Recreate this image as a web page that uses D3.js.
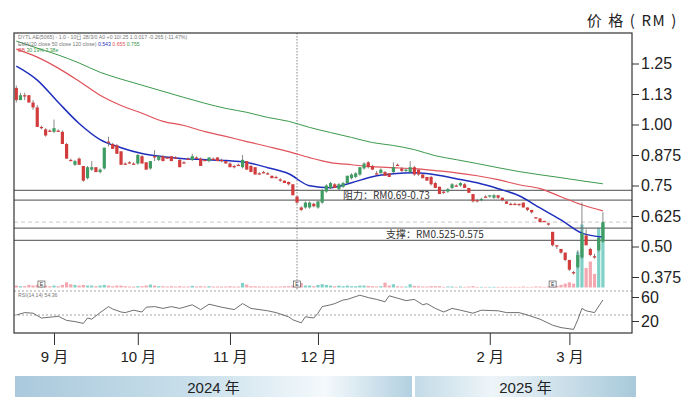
<!DOCTYPE html>
<html><head><meta charset="utf-8">
<script src="https://cdn.jsdelivr.net/npm/d3@7"></script>
<style>body{margin:0;background:#fff}svg{display:block}</style>
</head><body>
<svg id="c" width="690" height="402"></svg>
<script>
// ---------- DATA ----------
// daily candles [open, high, low, close], 20 Aug 2024 .. 13 Mar 2025 (trading days)
const candles = [
[1.15,1.16,1.09,1.10],[1.10,1.13,1.10,1.12],[1.12,1.13,1.10,1.12],[1.12,1.12,1.09,1.09],[1.09,1.10,1.06,1.07],
[1.07,1.08,0.99,0.99],[0.99,0.995,0.98,0.985],[0.98,0.985,0.95,0.955],[0.975,0.98,0.97,0.975],[0.97,1.02,0.965,0.985],
[0.975,0.98,0.97,0.975],[0.97,0.975,0.92,0.92],[0.92,0.925,0.86,0.86],[0.855,0.86,0.85,0.855],[0.835,0.855,0.83,0.85],
[0.86,0.865,0.835,0.835],[0.83,0.83,0.765,0.77],[0.78,0.83,0.775,0.825],[0.815,0.85,0.81,0.825],[0.825,0.825,0.805,0.805],
[0.805,0.82,0.80,0.815],[0.82,0.905,0.815,0.905],[0.93,0.95,0.91,0.93],[0.92,0.925,0.90,0.90],[0.915,0.92,0.88,0.88],
[0.89,0.89,0.835,0.835],[0.84,0.845,0.835,0.84],[0.845,0.85,0.84,0.845],[0.84,0.845,0.835,0.84],[0.84,0.88,0.835,0.875],
[0.87,0.875,0.84,0.84],[0.845,0.845,0.815,0.815],[0.82,0.85,0.815,0.85],[0.87,0.895,0.85,0.87],[0.855,0.875,0.85,0.87],
[0.87,0.875,0.85,0.85],[0.865,0.87,0.86,0.865],[0.87,0.87,0.85,0.85],[0.865,0.87,0.86,0.865],[0.855,0.86,0.825,0.825],
[0.845,0.85,0.84,0.845],[0.86,0.865,0.855,0.86],[0.855,0.88,0.85,0.87],[0.865,0.87,0.86,0.865],[0.86,0.865,0.83,0.83],
[0.855,0.86,0.85,0.855],[0.85,0.865,0.845,0.865],[0.86,0.865,0.855,0.86],[0.865,0.865,0.85,0.85],[0.855,0.86,0.845,0.85],
[0.85,0.85,0.84,0.84],[0.84,0.845,0.825,0.825],[0.83,0.835,0.82,0.825],[0.835,0.84,0.83,0.835],[0.825,0.875,0.82,0.855],
[0.85,0.85,0.815,0.815],[0.83,0.835,0.805,0.805],[0.825,0.825,0.795,0.795],[0.80,0.805,0.795,0.80],[0.805,0.81,0.80,0.805],
[0.80,0.805,0.795,0.795],[0.79,0.79,0.78,0.78],[0.785,0.79,0.78,0.785],[0.775,0.78,0.765,0.77],[0.77,0.77,0.76,0.76],
[0.765,0.765,0.75,0.755],[0.755,0.755,0.71,0.71],[0.705,0.705,0.675,0.68],[0.66,0.665,0.645,0.65],[0.66,0.685,0.655,0.68],
[0.66,0.685,0.655,0.68],[0.675,0.68,0.66,0.665],[0.66,0.685,0.655,0.685],[0.68,0.735,0.675,0.73],[0.725,0.755,0.72,0.75],
[0.74,0.765,0.735,0.76],[0.755,0.76,0.74,0.74],[0.735,0.76,0.73,0.755],[0.745,0.765,0.74,0.76],[0.76,0.79,0.755,0.79],
[0.78,0.80,0.775,0.795],[0.785,0.805,0.78,0.80],[0.795,0.825,0.79,0.825],[0.82,0.845,0.815,0.84],[0.845,0.85,0.82,0.825],
[0.83,0.835,0.815,0.815],[0.80,0.81,0.795,0.80],[0.80,0.82,0.80,0.815],[0.805,0.81,0.79,0.79],[0.80,0.80,0.785,0.785],
[0.805,0.845,0.80,0.825],[0.835,0.84,0.83,0.835],[0.82,0.825,0.805,0.81],[0.81,0.82,0.805,0.815],[0.805,0.85,0.80,0.825],
[0.825,0.83,0.79,0.795],[0.815,0.815,0.79,0.795],[0.795,0.80,0.78,0.78],[0.785,0.785,0.77,0.77],[0.785,0.79,0.75,0.755],
[0.76,0.765,0.74,0.74],[0.745,0.745,0.715,0.715],[0.725,0.73,0.715,0.725],[0.725,0.74,0.72,0.735],[0.74,0.76,0.735,0.755],
[0.75,0.755,0.745,0.75],[0.75,0.765,0.745,0.76],[0.755,0.76,0.74,0.74],[0.74,0.74,0.72,0.72],[0.715,0.715,0.68,0.685],
[0.69,0.695,0.68,0.685],[0.69,0.70,0.685,0.695],[0.705,0.71,0.70,0.705],[0.705,0.71,0.70,0.71],[0.70,0.715,0.695,0.71],
[0.71,0.71,0.695,0.70],[0.70,0.70,0.685,0.69],[0.685,0.685,0.675,0.675],[0.675,0.68,0.67,0.675],[0.675,0.68,0.67,0.675],
[0.675,0.675,0.665,0.67],[0.68,0.68,0.66,0.66],[0.66,0.66,0.645,0.65],[0.65,0.65,0.635,0.64],[0.62,0.62,0.615,0.615],
[0.615,0.615,0.60,0.60],[0.605,0.605,0.60,0.60],[0.595,0.595,0.585,0.59],[0.56,0.56,0.50,0.505],[0.505,0.505,0.49,0.505],
[0.49,0.49,0.47,0.475],[0.475,0.475,0.44,0.445],[0.445,0.445,0.40,0.405],[0.395,0.40,0.385,0.395],[0.415,0.485,0.41,0.465],
[0.455,0.68,0.45,0.555],[0.545,0.57,0.505,0.505],[0.49,0.495,0.46,0.465],[0.46,0.47,0.45,0.46],[0.485,0.54,0.48,0.535],
[0.52,0.64,0.515,0.60]
];
// volume (relative units, 100 = tallest bar)
const volumes = [
3,2,2,4,3,4,2,3,2,3,
2,4,8,5,4,3,4,3,3,2,
3,4,3,2,3,3,2,1.5,1.5,2,
2,3,4.5,3,2,2,1.5,2,1.5,2,
1.5,1.5,2.5,1.5,2,1.5,2,1.5,1.5,1.5,
1.5,2,1.5,1.5,7,4.5,2,2,1.5,1.5,
1.5,1.5,1.5,1.5,2,2,3,5,7,3,
3,2,4,5,4,3,2,3,2,3,
2,2,3,3,2.5,2,1.5,2,7.5,3,
5,2,1.5,1.5,5,2.5,2,1.5,1.5,2,
2,2,1,1.5,1.5,1,1.5,1,1.5,2,
1,1,1,1,1,1,1,1,1,1,
1,1.5,1,1,1.5,1.5,1,1.5,4,2.5,
4,6,8,6,55,97,30,40,21,92,
98
];
// moving averages sampled every 5 trading days
const maIndex = d3.range(0, 141, 5);
const ema20  = [1.239,1.182,1.091,1.004,0.938,0.905,0.881,0.868,0.860,0.856,0.852,0.844,0.823,0.798,0.749,0.741,0.761,0.786,0.798,0.802,0.794,0.778,0.761,0.737,0.708,0.658,0.609,0.555,0.539];
const ema50  = [1.309,1.276,1.231,1.177,1.120,1.078,1.046,1.013,0.996,0.971,0.951,0.930,0.910,0.889,0.864,0.844,0.835,0.827,0.823,0.819,0.811,0.802,0.790,0.774,0.753,0.737,0.704,0.671,0.646];
const ema120 = [1.342,1.313,1.285,1.252,1.214,1.186,1.161,1.136,1.111,1.087,1.066,1.050,1.029,1.013,0.988,0.967,0.947,0.926,0.914,0.897,0.872,0.856,0.840,0.823,0.807,0.794,0.782,0.769,0.757];
// RSI
const rsiIndex = [0,2,4,6,9,10,12,14,16,17,18,20,22,23,25,26,28,30,31,33,35,37,39,42,44,46,49,52,54,56,60,62,65,66,68,69,71,72,73,75,76,78,79,82,84,86,88,89,91,93,95,97,98,100,102,104,106,109,111,115,117,120,122,125,128,130,133,134,135,136,138,140];
const rsiValue = [30,34,33,25,27,28,21,19,16,25,23,34,44,40,35,34,38,35,43,44,41,44,41,47,39,48,43,39,49,41,37,34,27,22,17,27,25,33,44,47,49,55,56,63,59,56,52,62,58,54,56,47,49,41,35,41,38,33,38,37,34,34,30,23,13,9,6,22,41,37,34,55];
// axes
const priceTicks = [1.25,1.125,1.00,0.875,0.75,0.625,0.50,0.375];
const priceTickLabels = ["1.25","1.13","1.00","0.875","0.75","0.625","0.50","0.375"];
const rsiTicks = [60,20];
const rsiGuides = [70,30];
const monthIndex = [9,29,51,72,113,132];
const monthLabels = ["9 月","10 月","11 月","12 月","2 月","3 月"];
const yearLabels = ["2024 年","2025 年"];
// levels
const resistance = [0.69,0.73];
const support = [0.525,0.575];
const lastPrice = 0.60;
const markerIndex = 67;
const eventIndex = [6,67,128];
const resistanceText = "阻力：RM0.69-0.73";
const supportText = "支撑：RM0.525-0.575";
const axisTitle = "价 格 ( RM )";

// ---------- LAYOUT ----------
const F = {l:14, r:632, t:33, b:333, volBase:287.5, volH:65};
const NUM = "'Liberation Sans', Arial, 'Noto Sans CJK SC', sans-serif";
const CJK = "'Noto Sans CJK SC', 'Liberation Sans', sans-serif";
const UP = "#3f9c63", DN = "#d23c3c";

const svg = d3.select("#c");
const x  = d3.scaleLinear().domain([0, candles.length-1]).range([16.3, 602.9]);
const y  = d3.scaleLinear().domain([0.375, 1.25]).range([277, 63.5]);
const yv = d3.scaleLinear().domain([0, 100]).range([0, F.volH]);
const yr = d3.scaleLinear().domain([20, 60]).range([321, 297]);

const defs = svg.append("defs");
defs.append("clipPath").attr("id","plot").append("rect")
  .attr("x",F.l).attr("y",F.t).attr("width",F.r-F.l).attr("height",F.b-F.t);
const g1 = defs.append("linearGradient").attr("id","y24");
[[0,"#aac9dc"],[0.45,"#c9dfeb"],[0.78,"#f4f9fc"],[1,"#b2d0e0"]].forEach(s=>g1.append("stop").attr("offset",s[0]).attr("stop-color",s[1]));
const g2 = defs.append("linearGradient").attr("id","y25");
[[0,"#c3dbe7"],[0.35,"#eef5f9"],[1,"#a8c9da"]].forEach(s=>g2.append("stop").attr("offset",s[0]).attr("stop-color",s[1]));

const plot = svg.append("g").attr("clip-path","url(#plot)");

// last price dashed line
plot.append("line").attr("x1",F.l).attr("x2",F.r).attr("y1",y(lastPrice)).attr("y2",y(lastPrice))
  .attr("stroke","#c8c8c8").attr("stroke-dasharray","4,3").attr("stroke-width",1);

// volume
plot.append("g").selectAll("rect").data(volumes).join("rect")
  .attr("x",(d,i)=>x(i)-1.6).attr("width",3.2)
  .attr("y",d=>F.volBase-yv(d)).attr("height",d=>yv(d))
  .attr("fill",(d,i)=>candles[i][3]>candles[i][0] ? "#7fd0c6" : "#f3a7af");

// support / resistance lines
plot.append("g").selectAll("line").data(resistance.concat(support)).join("line")
  .attr("x1",F.l).attr("x2",F.r).attr("y1",d=>y(d)).attr("y2",d=>y(d))
  .attr("stroke","#707070").attr("stroke-width",1.2);

// vertical marker
plot.append("line").attr("x1",x(markerIndex)).attr("x2",x(markerIndex)).attr("y1",F.t).attr("y2",290)
  .attr("stroke","#666").attr("stroke-dasharray","1.5,1.5").attr("stroke-width",0.8);

// moving averages
const maLine = vals => d3.line().x((d,i)=>x(maIndex[i])).y(d=>y(d)).curve(d3.curveMonotoneX)(vals);
plot.append("path").attr("d",maLine(ema120)).attr("fill","none").attr("stroke","#3d9a4c").attr("stroke-width",1);
plot.append("path").attr("d",maLine(ema50)).attr("fill","none").attr("stroke","#e0525a").attr("stroke-width",1.2);
plot.append("path").attr("d",maLine(ema20)).attr("fill","none").attr("stroke","#1f2fbd").attr("stroke-width",1.5);

// candles
const cg = plot.append("g").selectAll("g").data(candles).join("g");
cg.append("line").attr("x1",(d,i)=>x(i)).attr("x2",(d,i)=>x(i))
  .attr("y1",d=>y(d[1])).attr("y2",d=>y(d[2])).attr("stroke","#6a6a6a").attr("stroke-width",0.8);
cg.append("rect").attr("x",(d,i)=>x(i)-1.6).attr("width",3.2)
  .attr("y",d=>y(Math.max(d[0],d[3])))
  .attr("height",d=>Math.max(1.3, Math.abs(y(d[0])-y(d[3]))))
  .attr("fill",d=>d[3]>d[0]?UP:DN);

// event markers
const ev = plot.append("g").selectAll("g").data(eventIndex).join("g")
  .attr("transform",d=>`translate(${x(d)},284)`);
ev.append("rect").attr("x",-3.5).attr("y",-3).attr("width",7).attr("height",6)
  .attr("fill","#fff").attr("stroke","#555").attr("stroke-width",0.7);
ev.append("text").text("E").attr("text-anchor","middle").attr("y",2)
  .attr("font-size",5).attr("font-family",NUM).attr("fill","#333");

// RSI guides & line
plot.append("g").selectAll("line").data(rsiGuides).join("line")
  .attr("x1",F.l).attr("x2",F.r).attr("y1",d=>yr(d)).attr("y2",d=>yr(d))
  .attr("stroke","#8a8a8a").attr("stroke-dasharray","2,2").attr("stroke-width",0.8);
plot.append("path")
  .attr("d",d3.line().x((d,i)=>x(rsiIndex[i])).y(d=>yr(d))(rsiValue))
  .attr("fill","none").attr("stroke","#4a4a4a").attr("stroke-width",0.8);

// level labels
plot.append("text").text(resistanceText).attr("x",343).attr("y",y((resistance[0]+resistance[1])/2)+3.5)
  .attr("font-size",10).attr("font-family",CJK).attr("fill","#333");
plot.append("text").text(supportText).attr("x",386).attr("y",y((support[0]+support[1])/2)+3.5)
  .attr("font-size",10).attr("font-family",CJK).attr("fill","#333");

// legend text (tiny)
const lg = svg.append("g").attr("font-family",NUM).attr("font-size",5.2);
lg.append("text").attr("x",18).attr("y",38.6).attr("fill","#777")
  .text("DYTL AE(5065) - 1.0 - 10日  28/3/0 A0 +0 10/.25 1.0.017 -0.265 (-11.47%)");
const l2 = lg.append("text").attr("x",18).attr("y",45.8).attr("fill","#777");
l2.append("tspan").text("EMA(20 close 50 close 120 close) ");
l2.append("tspan").attr("fill","#1f2fbd").text("0.543 ");
l2.append("tspan").attr("fill","#e0525a").text("0.655 ");
l2.append("tspan").attr("fill","#3d9a4c").text("0.755");
const l3 = lg.append("text").attr("x",18).attr("y",52).attr("fill","#3d9a4c");
l3.append("tspan").attr("fill","#e0525a").text("BB ");
l3.append("tspan").text("30.19% 3.38e");
svg.append("text").attr("x",18).attr("y",296.5).attr("font-family",NUM).attr("font-size",5.2)
  .attr("fill","#777").text("RSI(14,14) 54.36");

// frame
svg.append("rect").attr("x",F.l).attr("y",F.t).attr("width",F.r-F.l).attr("height",F.b-F.t)
  .attr("fill","none").attr("stroke","#333").attr("stroke-width",1.2);

// right price axis
const ay = svg.append("g").attr("transform",`translate(${F.r},0)`)
  .call(d3.axisRight(y).tickValues(priceTicks).tickFormat((d,i)=>priceTickLabels[i]).tickSize(7).tickPadding(2));
const ar = svg.append("g").attr("transform",`translate(${F.r},0)`)
  .call(d3.axisRight(yr).tickValues(rsiTicks).tickSize(7).tickPadding(2));
[ay,ar].forEach(a=>{
  a.select(".domain").remove();
  a.selectAll("line").attr("stroke","#333").attr("stroke-width",1);
  a.selectAll("text").attr("font-size",16).attr("font-family",NUM).attr("fill","#222");
});

// bottom month axis
const ax = svg.append("g").attr("transform",`translate(0,${F.b})`)
  .call(d3.axisBottom(x).tickValues(monthIndex).tickFormat((d,i)=>monthLabels[i]).tickSize(12).tickPadding(6));
ax.select(".domain").remove();
ax.selectAll("line").attr("stroke","#333").attr("stroke-width",1);
ax.selectAll("text").attr("font-size",15).attr("font-family",NUM).attr("fill","#222");

// axis title
svg.append("text").attr("x",678).attr("y",26).attr("text-anchor","end")
  .attr("font-size",15).attr("letter-spacing",1.6).attr("font-family",CJK).attr("fill","#222").text(axisTitle);

// year bars
const yb = [{x0:15, x1:412, fill:"url(#y24)"},{x0:415, x1:636, fill:"url(#y25)"}];
yb.forEach((b,i)=>{
  svg.append("rect").attr("x",b.x0).attr("y",376).attr("width",b.x1-b.x0).attr("height",21).attr("fill",b.fill);
  svg.append("text").attr("x",(b.x0+b.x1)/2).attr("y",392.5).attr("text-anchor","middle")
    .attr("font-size",15).attr("font-family",NUM).attr("fill","#222").text(yearLabels[i]);
});
</script>
</body></html>
